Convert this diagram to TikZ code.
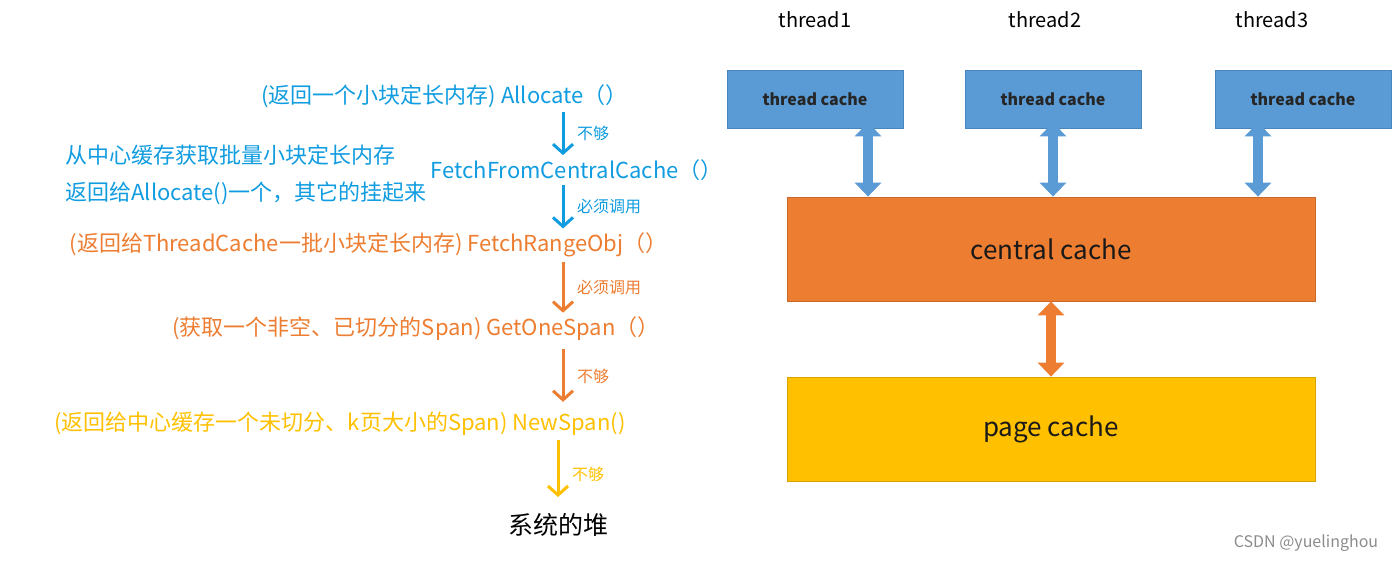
\documentclass[tikz,border=0pt]{standalone}
\usepackage{fontspec}
\setmainfont{Noto Sans CJK SC}
\usepackage{tikz}
\usetikzlibrary{arrows.meta,positioning,calc}
\definecolor{flowblue}{HTML}{109CE0}
\definecolor{flowor}{HTML}{ED7D31}
\definecolor{flowye}{HTML}{FFC000}
\definecolor{tcblue}{HTML}{5B9BD5}
\definecolor{tcedge}{HTML}{4A86BE}

\begin{document}
\begin{tikzpicture}[
  x=0.5pt, y=-0.5pt,
  flowtxt/.style = {inner sep=2pt, font=\fontsize{11pt}{13pt}\selectfont},
  steparr/.style = {-{Straight Barb[length=4.5pt,width=10pt,line width=1.5pt]}, line width=1.5pt},
  steplbl/.style = {right=3pt, font=\fontsize{8pt}{9pt}\selectfont},
  tcbox/.style = {draw=tcedge, fill=tcblue, minimum width=88pt, minimum height=29pt,
                  font=\fontsize{8pt}{9pt}\selectfont\bfseries, text=black!85},
  bigbox/.style = {draw=#1!85!black, fill=#1, minimum width=264pt, minimum height=52pt,
                   font=\fontsize{13pt}{15pt}\selectfont, text=black!90},
  fatarr/.style = {{Triangle[width=13pt,length=7pt]}-{Triangle[width=13pt,length=7pt]},
                   line width=5pt, #1},
]
\useasboundingbox (0,0) rectangle (1400,563);

% Call chain (left)
\node[flowtxt, text=flowblue, anchor=east] (alloc) at (632,96) {(返回一个小块定长内存)~Allocate（）};
\node[flowtxt, text=flowblue, anchor=east] (fetchcc) at (727,170) {FetchFromCentralCache（）};
\node[flowtxt, text=flowblue, anchor=west] (note1) at (61,155) {从中心缓存获取批量小块定长内存};
\node[flowtxt, text=flowblue, anchor=west] (note2) at (61,193) {返回给Allocate()一个，其它的挂起来};
\node[flowtxt, text=flowor, anchor=east] (fetchro) at (672,245) {(返回给ThreadCache一批小块定长内存)~FetchRangeObj（）};
\node[flowtxt, text=flowor, anchor=east] (getone) at (664,329) {(获取一个非空、已切分的Span)~GetOneSpan（）};
\node[flowtxt, text=flowye, anchor=east] (newspan) at (630,424) {(返回给中心缓存一个未切分、k页大小的Span)~NewSpan()};
\node[inner sep=2pt, font=\fontsize{12.5pt}{14pt}\selectfont] (heap) at (558,525) {系统的堆};

% Step arrows
\draw[steparr, flowblue] (563,0 |- alloc.south) -- node[steplbl] {不够} (563,0 |- fetchcc.north);
\draw[steparr, flowblue] (563,0 |- fetchcc.south) -- node[steplbl] {必须调用} (563,0 |- fetchro.north);
\draw[steparr, flowor] (563,0 |- fetchro.south) -- node[steplbl] {必须调用} (563,0 |- getone.north);
\draw[steparr, flowor, shorten <=2pt, shorten >=3pt] (563,0 |- getone.south) -- node[steplbl] {不够} (563,0 |- newspan.north);
\draw[steparr, flowye, shorten >=6pt] (558,0 |- newspan.south) -- node[steplbl] {不够} (558,0 |- heap.north);

% Thread caches (right)
\node[font=\fontsize{10pt}{12pt}\selectfont] (th1) at (815,20) {thread1};
\node[font=\fontsize{10pt}{12pt}\selectfont] (th2) at (1045,20) {thread2};
\node[font=\fontsize{10pt}{12pt}\selectfont] (th3) at (1272,20) {thread3};
\node[tcbox] (tc1) at (815,99) {thread cache};
\node[tcbox] (tc2) at (1053,99) {thread cache};
\node[tcbox] (tc3) at (1303,99) {thread cache};

\node[bigbox=flowor] (central) at (1051,249) {central cache};
\node[bigbox=flowye] (page) at (1051,429) {page cache};

% Fat arrows
\draw[fatarr=tcblue, shorten <=-3pt] (868,0 |- tc1.south) -- (868,0 |- central.north);
\draw[fatarr=tcblue, shorten <=-3pt] (1053,0 |- tc2.south) -- (1053,0 |- central.north);
\draw[fatarr=tcblue, shorten <=-3pt] (1258,0 |- tc3.south) -- (1258,0 |- central.north);
\draw[fatarr=flowor] (central.south) -- (page.north);

% Watermark
\node[text=black!45, font=\fontsize{8pt}{9pt}\selectfont] (mark) at (1306,543) {CSDN @yuelinghou};
\end{tikzpicture}
\end{document}
